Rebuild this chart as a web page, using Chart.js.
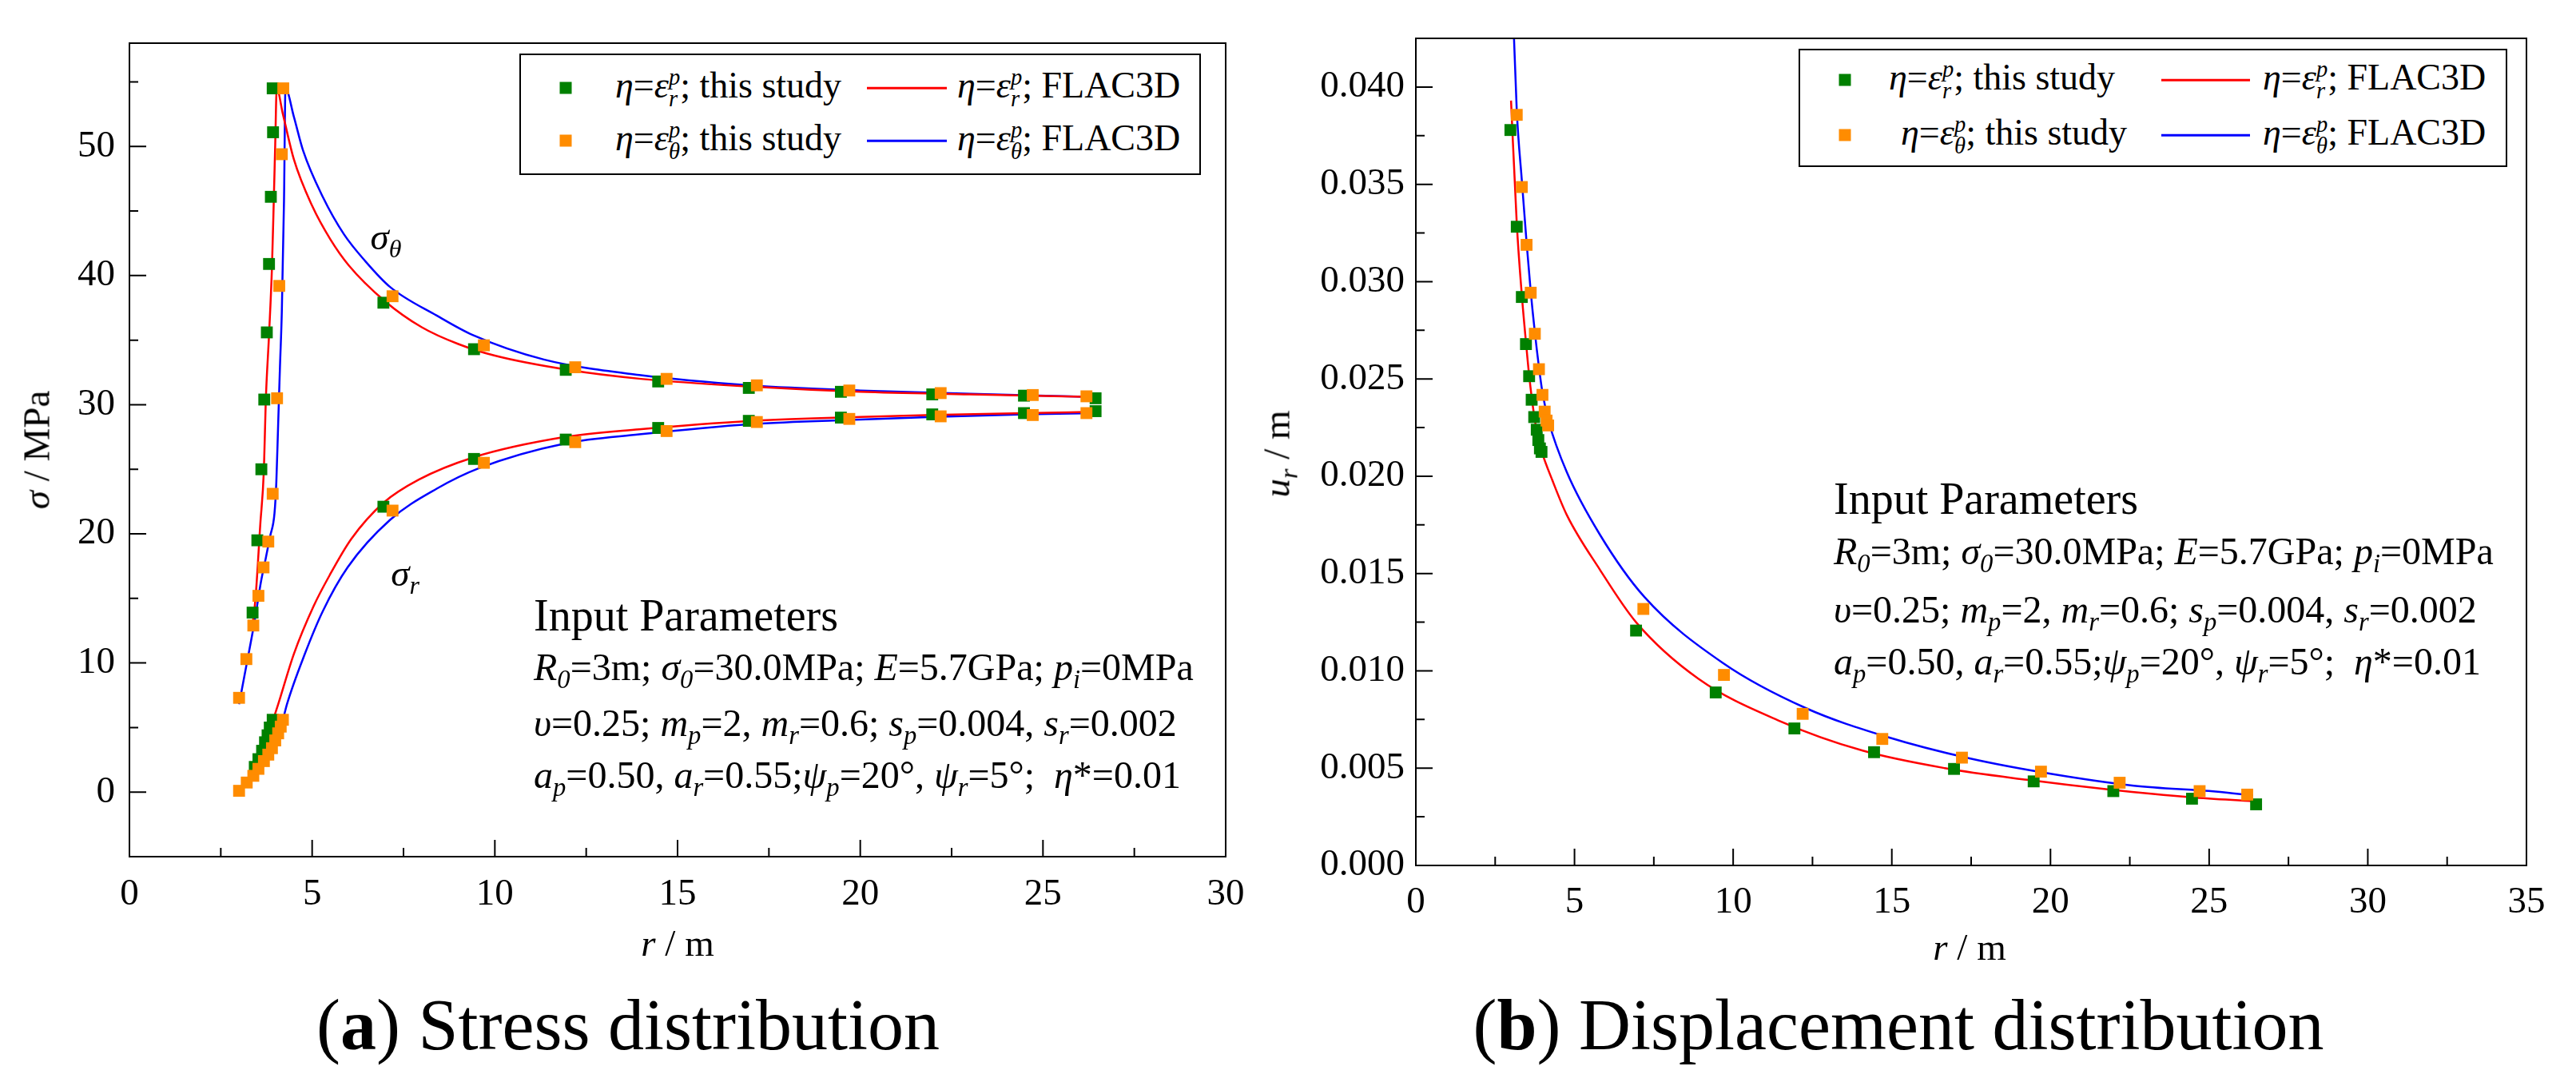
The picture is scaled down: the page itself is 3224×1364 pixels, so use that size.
<!DOCTYPE html>
<html>
<head>
<meta charset="utf-8">
<script src="https://cdn.jsdelivr.net/npm/chart.js@4.4.0/dist/chart.umd.min.js"></script>
<style>
  body { margin: 0; background: #fff; width: 3224px; height: 1364px; position: relative; overflow: hidden;
         font-family: "Liberation Serif", "Times New Roman", serif; color: #000; }
  .box { position: absolute; }
  .t { position: absolute; white-space: nowrap; line-height: 1; transform: translateY(-50%); }
  .c { transform: translate(-50%, -50%); }
  .rot { transform: translate(-50%, -50%) rotate(-90deg); }
  sub { font-size: 0.68em; vertical-align: -0.32em; line-height: 0; }
  .ss { display: inline-flex; flex-direction: column; font-size: 0.62em; line-height: 0.95;
        vertical-align: 0.56em; font-style: italic; }
  .legend { position: absolute; border: 2px solid #000; box-sizing: border-box; background: #fff; font-size: 46px; }
  .mk { position: absolute; width: 15px; height: 15px; transform: translate(-50%, -50%); }
  .ln { position: absolute; height: 2.5px; transform: translateY(-50%); }
  .params { font-size: 48px; }
  .head { font-size: 56px; }
  .cap { font-size: 90px; }
  .ax { font-size: 47px; }
</style>
</head>
<body>

<div class="box" style="left:0;top:0;width:1600px;height:1160px"><canvas id="stress"></canvas></div>
<div class="box" style="left:1612px;top:0;width:1612px;height:1170px"><canvas id="disp"></canvas></div>

<!-- (a) overlays -->
<div class="legend" style="left:650px;top:67px;width:853px;height:152px">
  <div class="mk" style="left:56px;top:41px;background:#008000"></div>
  <div class="t" style="left:118px;top:41px"><i>η</i>=<i>ε</i><span class="ss"><span>p</span><span>r</span></span>; this study</div>
  <div class="ln" style="left:433px;top:41px;width:100px;background:#ff0000"></div>
  <div class="t" style="left:546px;top:41px"><i>η</i>=<i>ε</i><span class="ss"><span>p</span><span>r</span></span>; FLAC3D</div>
  <div class="mk" style="left:56px;top:107px;background:#ff8c00"></div>
  <div class="t" style="left:118px;top:107px"><i>η</i>=<i>ε</i><span class="ss"><span>p</span><span>θ</span></span>; this study</div>
  <div class="ln" style="left:433px;top:107px;width:100px;background:#0000ff"></div>
  <div class="t" style="left:546px;top:107px"><i>η</i>=<i>ε</i><span class="ss"><span>p</span><span>θ</span></span>; FLAC3D</div>
</div>
<div class="t c ax" style="left:483px;top:296px"><i>σ</i><sub><i>θ</i></sub></div>
<div class="t c ax" style="left:507px;top:717px"><i>σ</i><sub><i>r</i></sub></div>
<div class="t head" style="left:668px;top:770px">Input Parameters</div>
<div class="t params" style="left:668px;top:835px"><i>R</i><sub><i>0</i></sub>=3m; <i>σ</i><sub><i>0</i></sub>=30.0MPa; <i>E</i>=5.7GPa; <i>p</i><sub><i>i</i></sub>=0MPa</div>
<div class="t params" style="left:668px;top:905px"><i>υ</i>=0.25; <i>m</i><sub><i>p</i></sub>=2, <i>m</i><sub><i>r</i></sub>=0.6; <i>s</i><sub><i>p</i></sub>=0.004, <i>s</i><sub><i>r</i></sub>=0.002</div>
<div class="t params" style="left:668px;top:970px"><i>a</i><sub><i>p</i></sub>=0.50, <i>a</i><sub><i>r</i></sub>=0.55;<i>ψ</i><sub><i>p</i></sub>=20°, <i>ψ</i><sub><i>r</i></sub>=5°;&nbsp; <i>η</i>*=0.01</div>
<div class="t c ax" style="left:848px;top:1180px"><i>r</i> / m</div>
<div class="t rot ax" style="left:46px;top:563px"><i>σ</i> / MPa</div>
<div class="t c cap" style="left:786px;top:1283px">(<b>a</b>) Stress distribution</div>

<!-- (b) overlays -->
<div class="legend" style="left:2251px;top:61px;width:887px;height:148px">
  <div class="mk" style="left:56px;top:37px;background:#008000"></div>
  <div class="t" style="left:111px;top:37px"><i>η</i>=<i>ε</i><span class="ss"><span>p</span><span>r</span></span>; this study</div>
  <div class="ln" style="left:452px;top:37px;width:111px;background:#ff0000"></div>
  <div class="t" style="left:579px;top:37px"><i>η</i>=<i>ε</i><span class="ss"><span>p</span><span>r</span></span>; FLAC3D</div>
  <div class="mk" style="left:56px;top:106px;background:#ff8c00"></div>
  <div class="t" style="left:126px;top:106px"><i>η</i>=<i>ε</i><span class="ss"><span>p</span><span>θ</span></span>; this study</div>
  <div class="ln" style="left:452px;top:106px;width:111px;background:#0000ff"></div>
  <div class="t" style="left:579px;top:106px"><i>η</i>=<i>ε</i><span class="ss"><span>p</span><span>θ</span></span>; FLAC3D</div>
</div>
<div class="t head" style="left:2295px;top:624px">Input Parameters</div>
<div class="t params" style="left:2295px;top:690px"><i>R</i><sub><i>0</i></sub>=3m; <i>σ</i><sub><i>0</i></sub>=30.0MPa; <i>E</i>=5.7GPa; <i>p</i><sub><i>i</i></sub>=0MPa</div>
<div class="t params" style="left:2295px;top:763px"><i>υ</i>=0.25; <i>m</i><sub><i>p</i></sub>=2, <i>m</i><sub><i>r</i></sub>=0.6; <i>s</i><sub><i>p</i></sub>=0.004, <i>s</i><sub><i>r</i></sub>=0.002</div>
<div class="t params" style="left:2295px;top:828px"><i>a</i><sub><i>p</i></sub>=0.50, <i>a</i><sub><i>r</i></sub>=0.55;<i>ψ</i><sub><i>p</i></sub>=20°, <i>ψ</i><sub><i>r</i></sub>=5°;&nbsp; <i>η</i>*=0.01</div>
<div class="t c ax" style="left:2465px;top:1185px"><i>r</i> / m</div>
<div class="t rot ax" style="left:1598px;top:568px"><i>u</i><sub><i>r</i></sub> / m</div>
<div class="t c cap" style="left:2376px;top:1283px">(<b>b</b>) Displacement distribution</div>

<script>
// ---- (a) stress distribution ----
const stressXTicks = [0, 5, 10, 15, 20, 25, 30];
const stressYTicks = [0, 10, 20, 30, 40, 50];

// eta = eps_r, this study (green squares)
const greenR = [3.37, 3.50, 3.61, 3.69, 3.76, 3.82, 3.87, 3.93, 3.92,
  6.95, 9.43, 11.94, 14.47, 16.95, 19.47, 21.97, 24.48, 26.44,
  3.43, 3.53, 3.63, 3.71, 3.78, 3.84, 3.92,
  6.95, 9.43, 11.94, 14.47, 16.95, 19.47, 21.97, 24.48, 26.44];
const greenSigma = [13.9, 19.5, 25.0, 30.4, 35.6, 40.9, 46.1, 51.1, 54.5,
  37.9, 34.3, 32.7, 31.8, 31.3, 31.0, 30.8, 30.7, 30.5,
  1.95, 2.55, 3.2, 3.86, 4.4, 5.0, 5.6,
  22.1, 25.8, 27.3, 28.2, 28.75, 29.0, 29.25, 29.35, 29.5];

// eta = eps_theta, this study (orange squares)
const orangeR = [3.0, 3.2, 3.39, 3.53, 3.67, 3.80, 3.92, 4.04, 4.10, 4.17, 4.21,
  7.2, 9.7, 12.2, 14.7, 17.17, 19.7, 22.2, 24.72, 26.19,
  3.0, 3.21, 3.39, 3.53, 3.68, 3.80, 3.90, 3.99, 4.07, 4.14, 4.2,
  7.2, 9.7, 12.2, 14.7, 17.17, 19.7, 22.2, 24.72, 26.19];
const orangeSigma = [7.3, 10.3, 12.9, 15.2, 17.4, 19.4, 23.1, 30.5, 39.2, 49.4, 54.5,
  38.4, 34.6, 32.9, 32.0, 31.5, 31.1, 30.9, 30.75, 30.65,
  0.1, 0.74, 1.26, 1.8, 2.4, 2.9, 3.4, 4.0, 4.55, 5.07, 5.6,
  21.8, 25.5, 27.1, 27.96, 28.66, 28.9, 29.1, 29.2, 29.35];

// FLAC3D curves
const redThetaR = [3.36, 3.45, 3.58, 3.68, 3.73, 3.82, 3.90, 3.95, 3.99, 4.03,
  4.2, 4.5, 5.0, 5.5, 6.0, 7.0, 8.0, 9.0, 10.0, 12.0, 14.0, 17.0, 20.0, 23.0, 26.4];
const redThetaS = [12.8, 15.0, 20.7, 25.0, 30.2, 35.4, 40.6, 45.8, 50.2, 54.5,
  52.5, 49.0, 45.4, 42.8, 40.8, 38.0, 36.0, 34.7, 33.8, 32.7, 32.0, 31.4, 31.0, 30.8, 30.6];
const blueThetaR = [3.0, 3.2, 3.43, 3.6, 3.73, 3.85, 3.97, 4.02, 4.07, 4.12, 4.17, 4.23, 4.27,
  4.5, 4.75, 5.29, 5.87, 6.46, 7.14, 8.41, 9.39, 11.34, 13.95, 17.0, 20.0, 23.0, 26.4];
const blueThetaS = [6.8, 9.8, 13.3, 16.3, 18.1, 19.8, 21.6, 24.0, 28.5, 33.0, 37.2, 45.8, 54.5,
  52.3, 49.7, 46.1, 43.2, 41.1, 39.1, 36.9, 35.4, 33.5, 32.3, 31.5, 31.1, 30.85, 30.6];
const redRadR = [3.0, 3.2, 3.43, 3.63, 3.78, 3.92, 4.07, 4.5, 5.04, 5.48, 6.07, 6.95, 7.92,
  9.39, 11.92, 13.95, 17.0, 20.0, 22.0, 24.5, 26.4];
const redRadS = [0.0, 0.8, 1.9, 3.1, 4.3, 5.5, 6.8, 10.7, 14.4, 16.8, 19.6, 22.4, 24.2,
  25.9, 27.5, 28.1, 28.75, 29.05, 29.2, 29.35, 29.45];
const blueRadR = [3.0, 3.21, 3.39, 3.68, 3.90, 4.07, 4.2, 4.31, 4.8, 5.29, 5.97, 7.14, 8.41,
  9.58, 11.92, 13.95, 17.0, 20.0, 22.0, 24.5, 26.4];
const blueRadS = [0.0, 0.7, 1.25, 2.4, 3.4, 4.5, 5.6, 6.8, 10.7, 14.0, 17.4, 21.1, 23.5,
  25.1, 27.0, 27.7, 28.5, 28.85, 29.05, 29.25, 29.35];

// ---- (b) displacement distribution ----
const dispXTicks = [0, 5, 10, 15, 20, 25, 30, 35];
const dispYTicks = [0, 0.005, 0.010, 0.015, 0.020, 0.025, 0.030, 0.035, 0.040];

const dispGreenR = [2.98, 3.18, 3.34, 3.47, 3.57, 3.65, 3.73, 3.81, 3.86, 3.91, 3.96,
  6.94, 9.45, 11.93, 14.44, 16.96, 19.47, 21.98, 24.46, 26.48];
const dispGreenU = [0.03779, 0.03282, 0.02921, 0.02679, 0.02514, 0.02393, 0.02304, 0.02239, 0.02186, 0.02143, 0.02125,
  0.01207, 0.00889, 0.00704, 0.00582, 0.00496, 0.00432, 0.00382, 0.00343, 0.00314];
const dispOrangeR = [3.18, 3.34, 3.49, 3.62, 3.75, 3.88, 3.99, 4.06, 4.12, 4.17,
  7.17, 9.71, 12.19, 14.7, 17.21, 19.7, 22.18, 24.7, 26.2];
const dispOrangeU = [0.03857, 0.03486, 0.03189, 0.02943, 0.02732, 0.0255, 0.02418, 0.02332, 0.02286, 0.02261,
  0.01318, 0.00979, 0.00779, 0.0065, 0.00554, 0.00482, 0.00425, 0.00382, 0.00364];
const dispRedR = [3.0, 3.18, 3.34, 3.47, 3.57, 3.73, 3.86, 3.96, 4.3, 4.76, 5.8, 6.94, 8.9,
  11.5, 14.08, 16.67, 19.26, 21.85, 24.44, 26.38];
const dispRedU = [0.0393, 0.0330, 0.0293, 0.0269, 0.0252, 0.0231, 0.0219, 0.0213, 0.0198, 0.0180, 0.0152, 0.0125, 0.0096,
  0.0074, 0.0059, 0.0050, 0.0044, 0.0039, 0.0035, 0.0033];
const dispBlueR = [3.05, 3.18, 3.34, 3.49, 3.62, 3.75, 3.88, 3.99, 4.19, 4.76, 5.8, 7.2, 9.68,
  12.27, 14.86, 17.45, 20.04, 22.63, 25.2, 26.38];
const dispBlueU = [0.0445, 0.0388, 0.0352, 0.0320, 0.0295, 0.0274, 0.0256, 0.0243, 0.0228, 0.0202, 0.0170, 0.0138, 0.0104,
  0.0081, 0.0066, 0.0055, 0.0047, 0.0041, 0.0038, 0.0036];

const GREEN = "#008000", ORANGE = "#ff8c00", RED = "#ff0000", BLUE = "#0000ff";

Chart.defaults.font.family = '"Liberation Serif", "Times New Roman", serif';
Chart.defaults.color = "#000";

const zip = (xs, ys) => xs.map((x, i) => ({ x: x, y: ys[i] }));

const markers = (xs, ys, color, order) => ({
  data: zip(xs, ys),
  pointStyle: "rect",
  pointRadius: 10.5,
  pointBorderWidth: 0,
  backgroundColor: color,
  borderColor: color,
  showLine: false,
  order: order,
});

const curve = (xs, ys, color, order) => ({
  data: zip(xs, ys),
  showLine: true,
  pointRadius: 0,
  borderColor: color,
  backgroundColor: color,
  borderWidth: 2.5,
  cubicInterpolationMode: "monotone",
  fill: false,
  order: order,
});

// box round the plot and inward major / minor ticks
const frameTicks = {
  id: "frameTicks",
  afterDatasetsDraw(chart, args, opts) {
    const { ctx, chartArea: a, scales } = chart;
    const x = scales.x, y = scales.y;
    const minors = (ticks, max) => {
      const step = ticks[1] - ticks[0];
      const out = [];
      ticks.forEach(t => { if (t + step / 2 <= max + 1e-9) out.push(t + step / 2); });
      return out;
    };
    ctx.save();
    ctx.strokeStyle = "#000";
    ctx.lineWidth = 2;
    ctx.beginPath();
    opts.xTicks.forEach(v => { const p = x.getPixelForValue(v); ctx.moveTo(p, a.bottom); ctx.lineTo(p, a.bottom - 21); });
    minors(opts.xTicks, x.max).forEach(v => { const p = x.getPixelForValue(v); ctx.moveTo(p, a.bottom); ctx.lineTo(p, a.bottom - 11); });
    opts.yTicks.forEach(v => { const p = y.getPixelForValue(v); ctx.moveTo(a.left, p); ctx.lineTo(a.left + 21, p); });
    minors(opts.yTicks, y.max).forEach(v => { const p = y.getPixelForValue(v); ctx.moveTo(a.left, p); ctx.lineTo(a.left + 11, p); });
    ctx.stroke();
    ctx.strokeRect(a.left, a.top, a.right - a.left, a.bottom - a.top);
    ctx.restore();
  },
};

function makeChart(id, datasets, cfg) {
  return new Chart(document.getElementById(id), {
    type: "scatter",
    data: { datasets: datasets },
    plugins: [frameTicks],
    options: {
      responsive: true,
      maintainAspectRatio: false,
      devicePixelRatio: 1,
      animation: false,
      events: [],
      layout: { padding: cfg.padding },
      plugins: {
        legend: { display: false },
        tooltip: { enabled: false },
        frameTicks: { xTicks: cfg.xTicks, yTicks: cfg.yTicks },
      },
      scales: {
        x: {
          type: "linear",
          min: cfg.xMin,
          max: cfg.xMax,
          afterBuildTicks: s => { s.ticks = cfg.xTicks.map(v => ({ value: v })); },
          afterFit: s => { s.height = cfg.xHeight; },
          grid: { display: false, drawTicks: false },
          border: { display: false },
          ticks: { font: { size: 47 }, color: "#000", padding: cfg.xPad, maxRotation: 0, autoSkip: false,
                   callback: v => String(v) },
        },
        y: {
          type: "linear",
          min: cfg.yMin,
          max: cfg.yMax,
          afterBuildTicks: s => { s.ticks = cfg.yTicks.map(v => ({ value: v })); },
          afterFit: s => { s.width = cfg.yWidth; },
          grid: { display: false, drawTicks: false },
          border: { display: false },
          ticks: { font: { size: 47 }, color: "#000", padding: cfg.yPad, autoSkip: false,
                   callback: cfg.yFormat },
        },
      },
    },
  });
}

makeChart("stress", [
  markers(orangeR, orangeSigma, ORANGE, 0),
  markers(greenR, greenSigma, GREEN, 1),
  curve(redThetaR, redThetaS, RED, 2),
  curve(redRadR, redRadS, RED, 2),
  curve(blueThetaR, blueThetaS, BLUE, 3),
  curve(blueRadR, blueRadS, BLUE, 3),
], {
  padding: { left: 0, top: 54, right: 66, bottom: 0 },
  xMin: 0, xMax: 30, yMin: -5, yMax: 58,
  xTicks: stressXTicks, yTicks: stressYTicks,
  xHeight: 88, yWidth: 162, xPad: 19, yPad: 18,
  yFormat: v => String(v),
});

makeChart("disp", [
  markers(dispOrangeR, dispOrangeU, ORANGE, 0),
  markers(dispGreenR, dispGreenU, GREEN, 1),
  curve(dispRedR, dispRedU, RED, 2),
  curve(dispBlueR, dispBlueU, BLUE, 3),
], {
  padding: { left: 0, top: 48, right: 62, bottom: 0 },
  xMin: 0, xMax: 35, yMin: 0, yMax: 0.0425,
  xTicks: dispXTicks, yTicks: dispYTicks,
  xHeight: 87, yWidth: 160, xPad: 18, yPad: 14,
  yFormat: v => v.toFixed(3),
});
</script>
</body>
</html>
